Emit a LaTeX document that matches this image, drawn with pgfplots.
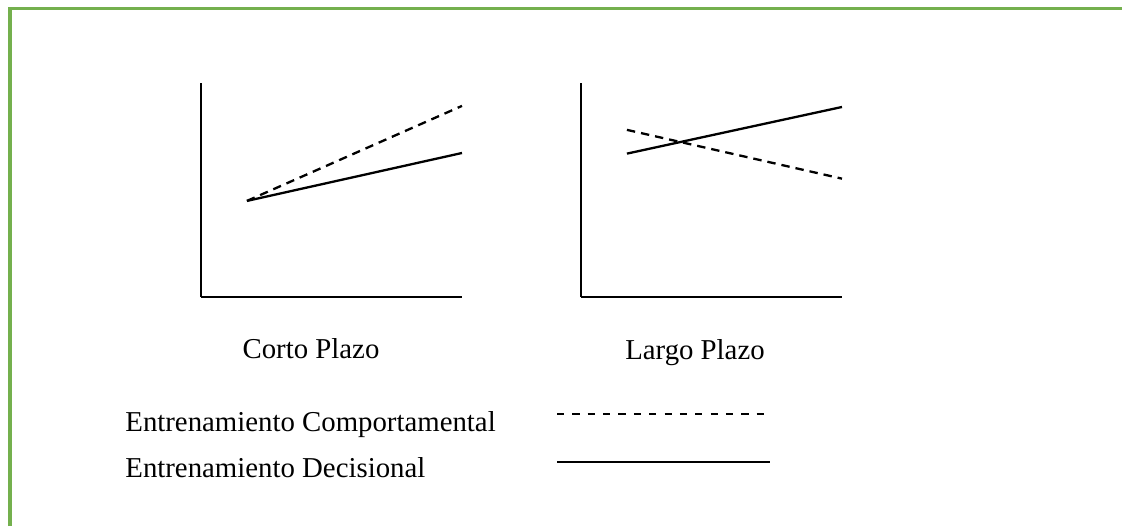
\documentclass[border=0pt]{standalone}
\usepackage{fontspec}
\setmainfont{Liberation Serif}
\usepackage{pgfplots}
\pgfplotsset{compat=1.18}
\definecolor{framegreen}{RGB}{116,176,78}

\pgfplotsset{
  sketch/.style={
    scale only axis,
    width=130.5pt, height=107pt,
    anchor=south west,
    axis lines=left,
    axis line style={-, line width=1pt, black},
    xmin=0, xmax=10, ymin=0, ymax=10,
    xtick=\empty, ytick=\empty,
    clip=false,
  },
}

\begin{document}
\begin{tikzpicture}
  \useasboundingbox (0,0) rectangle (561pt,263pt);
  % green frame (top and left edges only)
  \draw[framegreen, line width=1.6pt] (5pt,0) -- (5pt,258.6pt) -- (561pt,258.6pt);

  % Corto plazo
  \begin{axis}[sketch, at={(100.5pt,114.5pt)}]
    \addplot[black, line width=1.15pt, dash pattern=on 4.2pt off 3pt]
      coordinates {(1.76,4.49) (10,8.93)};
    \addplot[black, line width=1.15pt]
      coordinates {(1.76,4.49) (10,6.73)};
  \end{axis}

  % Largo plazo
  \begin{axis}[sketch, at={(290.5pt,114.5pt)}]
    \addplot[black, line width=1.15pt, dash pattern=on 4.2pt off 3pt]
      coordinates {(1.76,7.81) (10,5.53)};
    \addplot[black, line width=1.15pt]
      coordinates {(1.76,6.70) (10,8.88)};
  \end{axis}

  \begin{scope}[every node/.style={inner sep=0pt, font=\fontsize{14.4}{17}\selectfont}]
    \node[anchor=base] at (155.5pt,84pt) {Corto Plazo};
    \node[anchor=base] at (347.5pt,83.5pt) {Largo Plazo};
    \node[anchor=base west] at (62.5pt,47.5pt) {Entrenamiento Comportamental};
    \node[anchor=base west] at (62.5pt,24.5pt) {Entrenamiento Decisional};
  \end{scope}

  % legend samples
  \draw[black, line width=1.1pt, dash pattern=on 3.6pt off 4.08pt] (278.5pt,56pt) -- (382pt,56pt);
  \draw[black, line width=1.1pt] (278.5pt,32pt) -- (385pt,32pt);
\end{tikzpicture}
\end{document}
